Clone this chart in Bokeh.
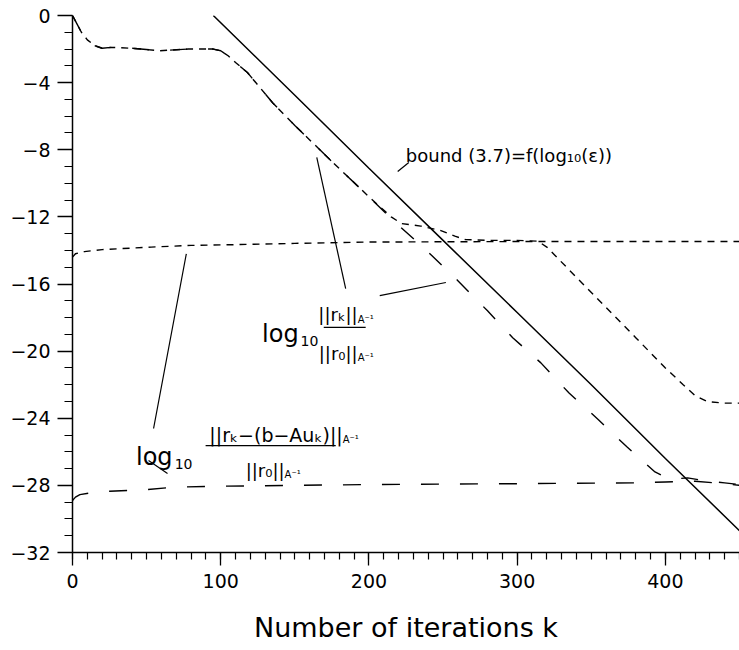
from bokeh.plotting import figure
from bokeh.models import FixedTicker, Label, Range1d
from bokeh.embed import file_html
from bokeh.resources import INLINE

# ---------------- data ----------------
# log10 ||r_k|| / ||r_0||  (run reaching the -28 level, long dashes)
k_rk_a = [0, 3, 6, 10, 15, 20, 26, 40, 59, 78, 95, 100, 105, 110, 118, 135, 150, 175, 200, 215,
          225, 240, 260, 280, 297, 316, 335, 355, 374, 393, 400, 408, 415, 425, 440, 450]
rk_a = [0.0, -0.5, -1.0, -1.45, -1.8, -1.95, -1.9, -1.95, -2.1, -2.0, -2.0, -2.1, -2.4, -2.8, -3.4,
        -5.2, -6.55, -8.7, -10.8, -12.1, -12.9, -14.1, -15.8, -17.6, -19.2, -20.7, -22.5, -24.1,
        -25.7, -27.2, -27.5, -27.6, -27.55, -27.7, -27.85, -27.95]

# log10 ||r_k|| / ||r_0||  (run with the -13.5 level, short dashes)
k_rk_b = [0, 3, 6, 10, 15, 20, 26, 40, 59, 78, 95, 100, 105, 110, 118, 135, 150, 175, 200, 215,
          222, 235, 248, 258, 265, 280, 300, 314, 320, 340, 360, 380, 400, 412, 420, 428, 440, 450]
rk_b = [0.0, -0.5, -1.0, -1.45, -1.8, -1.95, -1.9, -1.95, -2.1, -2.0, -2.0, -2.1, -2.4, -2.8, -3.4,
        -5.2, -6.55, -8.7, -10.8, -12.0, -12.4, -12.55, -12.8, -13.15, -13.35, -13.4, -13.4, -13.45,
        -13.8, -15.6, -17.4, -19.2, -21.0, -22.0, -22.65, -23.0, -23.1, -23.1]

# log10 ||r_k - (b - A u_k)|| / ||r_0||  (short dashes, about -13.5)
k_gap_b = [0, 2, 8, 20, 53, 80, 113, 150, 200, 300, 450]
gap_b = [-14.4, -14.2, -14.07, -13.95, -13.8, -13.7, -13.65, -13.58, -13.5, -13.47, -13.47]

# log10 ||r_k - (b - A u_k)|| / ||r_0||  (long dashes, about -28)
k_gap_a = [0, 2, 5, 12, 25, 50, 70, 100, 150, 200, 300, 380, 400, 420, 440, 450]
gap_a = [-28.9, -28.7, -28.55, -28.45, -28.35, -28.25, -28.1, -28.05, -28.0, -27.95, -27.9,
         -27.85, -27.8, -27.75, -27.9, -28.0]

# bound (3.7) (solid)
k_bound = [95, 150, 200, 250, 300, 350, 400, 450]
bound = [0.0, -4.75, -9.1, -13.4, -17.7, -22.0, -26.4, -30.7]

x_major = [0, 100, 200, 300, 400]
x_minor = list(range(0, 451, 10))
y_major = [0, -4, -8, -12, -16, -20, -24, -28, -32]
y_labels = ["0", "\u22124", "\u22128", "\u221212", "\u221216", "\u221220", "\u221224", "\u221228", "\u221232"]
y_minor = list(range(-32, 1))

FONT = "DejaVu Sans"

# ---------------- figure ----------------
p = figure(width=739, height=650, output_backend="svg", toolbar_location=None,
           x_range=Range1d(0, 450), y_range=Range1d(-32, 0),
           min_border_left=72, min_border_right=0, min_border_top=15, min_border_bottom=98)
p.outline_line_color = None
p.grid.visible = False
p.background_fill_color = "white"
p.border_fill_color = "white"

p.xaxis.ticker = FixedTicker(ticks=x_major, minor_ticks=x_minor)
p.yaxis.ticker = FixedTicker(ticks=y_major, minor_ticks=y_minor)
p.yaxis.major_label_overrides = {v: s for v, s in zip(y_major, y_labels)}

for ax in (p.xaxis, p.yaxis):
    ax.axis_line_width = 1.5
    ax.axis_line_color = "black"
    ax.major_tick_line_color = "black"
    ax.minor_tick_line_color = "black"
    ax.major_tick_line_width = 1.3
    ax.minor_tick_line_width = 1.2
    ax.major_tick_in = 0
    ax.minor_tick_in = 0
    ax.major_label_text_font = FONT
    ax.major_label_text_font_size = "19px"
    ax.major_label_text_color = "black"

p.xaxis.major_tick_out = 13
p.xaxis.minor_tick_out = 7
p.xaxis.major_label_standoff = 8
p.yaxis.major_tick_out = 15
p.yaxis.minor_tick_out = 8
p.yaxis.major_label_standoff = 7

p.xaxis.axis_label = "Number of iterations k"
p.xaxis.axis_label_text_font = FONT
p.xaxis.axis_label_text_font_size = "27px"
p.xaxis.axis_label_text_font_style = "normal"
p.xaxis.axis_label_text_color = "black"
p.xaxis.axis_label_standoff = 21

# ---------------- curves ----------------
p.line(k_bound, bound, line_color="black", line_width=1.5)
p.line(k_rk_a, rk_a, line_color="black", line_width=1.4, line_dash="17 21")
p.line(k_rk_b, rk_b, line_color="black", line_width=1.4, line_dash="7 6")
p.line(k_gap_b, gap_b, line_color="black", line_width=1.4, line_dash="7 6")
p.line(k_gap_a, gap_a, line_color="black", line_width=1.4, line_dash="18 21")

# ---------------- annotations ----------------
# leader lines (data units)
lead_x0 = [164.8, 207.3, 219.4, 76.8, 51.3]
lead_y0 = [-8.46, -16.69, -9.30, -14.2, -26.52]
lead_x1 = [184.3, 251.9, 226.9, 54.7, 64.1]
lead_y1 = [-16.27, -15.91, -8.76, -24.61, -27.29]
p.segment(lead_x0, lead_y0, lead_x1, lead_y1, line_color="black", line_width=1.2)

# fraction bars
p.segment([169.5, 89.8], [-18.59, -25.63], [197.8, 177.6], [-18.59, -25.63],
          line_color="black", line_width=1.3)


def lab(x, y, text, size, align="left"):
    p.add_layout(Label(x=x, y=y, text=text, text_font=FONT, text_font_size=size,
                       text_align=align, text_baseline="alphabetic", text_color="black"))


lab(224.9, -8.34, "bound (3.7)=f(log\u2081\u2080(\u03b5))", "18px")

# label 1
lab(152.6, -18.95, "log", "24px", "right")
lab(153.9, -19.37, "10", "14px")
lab(192.4, -17.82, "||r\u2096||", "18px", "right")
lab(192.4, -18.1, "A\u207b\u00b9", "10px")
lab(192.4, -20.12, "||r\u2080||", "18px", "right")
lab(192.4, -20.36, "A\u207b\u00b9", "10px")

# label 2
lab(67.5, -26.28, "log", "24px", "right")
lab(68.9, -26.7, "10", "14px")
lab(182.3, -24.98, "||r\u2096\u2212(b\u2212Au\u2096)||", "19px", "right")
lab(182.3, -25.25, "A\u207b\u00b9", "10px")
lab(143.1, -27.12, "||r\u2080||", "18px", "right")
lab(143.1, -27.35, "A\u207b\u00b9", "10px")

open("out.html", "w").write(file_html(p, INLINE))
